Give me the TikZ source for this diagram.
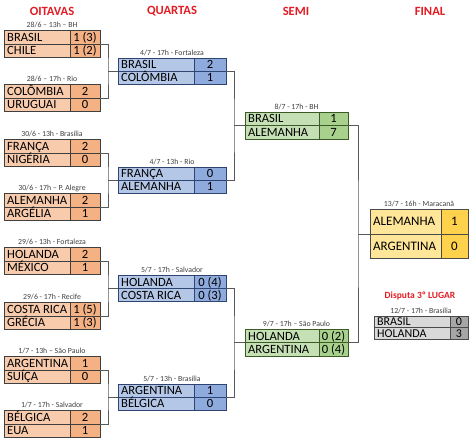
\documentclass[tikz,border=0pt]{standalone}
\usepackage{fontspec}
\setmainfont{Carlito}
\usetikzlibrary{calc}
\definecolor{hdr}{HTML}{E31B23}
\definecolor{lineg}{HTML}{595959}
\definecolor{dgray}{HTML}{404040}
\definecolor{oN}{HTML}{F8CBAD}
\definecolor{oS}{HTML}{F4B183}
\definecolor{oB}{HTML}{3F3F3F}
\definecolor{qN}{HTML}{B4C7E7}
\definecolor{qS}{HTML}{8FAADC}
\definecolor{qB}{HTML}{2F4470}
\definecolor{sN}{HTML}{C5E0B4}
\definecolor{sS}{HTML}{A9D18E}
\definecolor{sB}{HTML}{3B5A26}
\definecolor{fN}{HTML}{FFE699}
\definecolor{fS}{HTML}{FFD24D}
\definecolor{fB}{HTML}{4A4A4A}
\definecolor{tN}{HTML}{D9D9D9}
\definecolor{tS}{HTML}{A6A6A6}
\definecolor{tB}{HTML}{4A4A4A}
\tikzset{
  conn/.style={draw=lineg, line width=0.9pt},
  cell/.style={inner sep=0pt, outer sep=0pt, line width=0.7pt},
  team/.style={anchor=west, inner sep=0pt, text height=0.64*\gfs pt, text depth=0pt, font=\fontsize{\gfs}{\gfs}\selectfont},
  score/.style={inner sep=0pt, text height=0.64*\gfs pt, text depth=0pt, font=\fontsize{\gfs}{\gfs}\selectfont},
  datelbl/.style={inner sep=0pt, text=dgray, font=\fontsize{7.8}{7.8}\selectfont},
  header/.style={inner sep=0pt, text=hdr, font=\bfseries\fontsize{12.6}{12.6}\selectfont},
  oname/.style={fill=oN, draw=oB}, oscore/.style={fill=oS, draw=oB}, oline/.style={draw=oB, line width=0.7pt},
  qname/.style={fill=qN, draw=qB}, qscore/.style={fill=qS, draw=qB}, qline/.style={draw=qB, line width=0.7pt},
  sname/.style={fill=sN, draw=sB}, sscore/.style={fill=sS, draw=sB}, sline/.style={draw=sB, line width=0.7pt},
  fname/.style={fill=fN, draw=fB}, fscore/.style={fill=fS, draw=fB}, fline/.style={draw=fB, line width=0.7pt},
  tname/.style={fill=tN, draw=tB}, tscore/.style={fill=tS, draw=tB}, tline/.style={draw=tB, line width=0.7pt},
}
% geometry: \gL left, \gD divider, \gR right, \gH row height, \gfs font size
\newcommand{\setgeo}[5]{\def\gL{#1}\def\gD{#2}\def\gR{#3}\def\gH{#4}\def\gfs{#5}}
\newcommand{\game}[8]{%
  \node[cell, #8name, minimum width={(\gR-\gL)*1pt}, minimum height={2*\gH*1pt}, anchor=west] (#1) at (\gL,#2) {};
  \node[cell, #8score, minimum width={(\gR-\gD)*1pt}, minimum height={2*\gH*1pt}, anchor=east] (#1sc) at (#1.east) {};
  \draw[#8line] (#1.west) -- (#1.east);
  \node[team] (#1t1) at ($(#1.west)+(3,-\gH/2)$) {#3};
  \node[score] (#1s1) at ($(#1sc.center)+(0,-\gH/2)$) {#4};
  \node[team] (#1t2) at ($(#1.west)+(3,\gH/2)$) {#5};
  \node[score] (#1s2) at ($(#1sc.center)+(0,\gH/2)$) {#6};
  \node[datelbl] (#1d) at ($(#1.north)+(0,-5.5)$) {#7};
}
\begin{document}
\begin{tikzpicture}[x=1pt, y=-1pt]
\useasboundingbox (0,0) rectangle (474,442);
% headers
\node[header] (h1) at (52,11) {OITAVAS};
\node[header] (h2) at (172,11) {QUARTAS};
\node[header] (h3) at (296,11) {SEMI};
\node[header] (h4) at (430,11) {FINAL};
% bracket points
\coordinate (b1) at (108,71);
\coordinate (b2) at (108,180);
\coordinate (b3) at (108,288.5);
\coordinate (b4) at (108,397);
\coordinate (c1) at (234,125.5);
\coordinate (c2) at (234,342.75);
\coordinate (d1) at (358,234);
% oitavas
\setgeo{4}{70}{100}{13.5}{12.6}
\game{o1}{44}{BRASIL}{1 (3)}{CHILE}{1 (2)}{28/6 – 13h – BH}{o}
\game{o2}{98}{COLÔMBIA}{2}{URUGUAI}{0}{28/6 – 17h - Rio}{o}
\game{o3}{153}{FRANÇA}{2}{NIGÉRIA}{0}{30/6 - 13h - Brasília}{o}
\game{o4}{207}{ALEMANHA}{2}{ARGÉLIA}{1}{30/6 - 17h – P. Alegre}{o}
\game{o5}{261}{HOLANDA}{2}{MÉXICO}{1}{29/6 - 13h - Fortaleza}{o}
\game{o6}{316}{COSTA RICA}{1 (5)}{GRÉCIA}{1 (3)}{29/6 - 17h - Recife}{o}
\game{o7}{370}{ARGENTINA}{1}{SUÍÇA}{0}{1/7 - 13h – São Paulo}{o}
\game{o8}{424}{BÉLGICA}{2}{EUA}{1}{1/7 - 17h - Salvador}{o}
% quartas
\setgeo{118}{194}{226}{13}{12.6}
\game{q1}{71}{BRASIL}{2}{COLÔMBIA}{1}{4/7 - 17h - Fortaleza}{q}
\game{q2}{180}{FRANÇA}{0}{ALEMANHA}{1}{4/7 - 13h - Rio}{q}
\game{q3}{288.5}{HOLANDA}{0 (4)}{COSTA RICA}{0 (3)}{5/7 - 17h - Salvador}{q}
\game{q4}{397}{ARGENTINA}{1}{BÉLGICA}{0}{5/7 - 13h - Brasília}{q}
% semi
\setgeo{245}{319}{348}{13.5}{12.6}
\game{s1}{125.5}{BRASIL}{1}{ALEMANHA}{7}{8/7 - 17h - BH}{s}
\game{s2}{342.75}{HOLANDA}{0 (2)}{ARGENTINA}{0 (4)}{9/7 - 17h – São Paulo}{s}
% final
\setgeo{370}{441}{468}{24.5}{13}
\game{f1}{234}{ALEMANHA}{1}{ARGENTINA}{0}{13/7 - 16h - Maracanã}{f}
% third place
\node[inner sep=0pt, text=hdr, font=\bfseries\fontsize{9.5}{9.5}\selectfont] (t3h) at (420,296) {Disputa 3º LUGAR};
\setgeo{374}{450}{468}{11.5}{12}
\game{t1}{327.5}{BRASIL}{0}{HOLANDA}{3}{12/7 - 17h - Brasília}{t}
% connectors
\draw[conn] (o1.east) -| (b1) |- (o2.east);
\draw[conn] (b1) -- (q1.west);
\draw[conn] (o3.east) -| (b2) |- (o4.east);
\draw[conn] (b2) -- (q2.west);
\draw[conn] (o5.east) -| (b3) |- (o6.east);
\draw[conn] (b3) -- (q3.west);
\draw[conn] (o7.east) -| (b4) |- (o8.east);
\draw[conn] (b4) -- (q4.west);
\draw[conn] (q1.east) -| (c1) |- (q2.east);
\draw[conn] (c1) -- (s1.west);
\draw[conn] (q3.east) -| (c2) |- (q4.east);
\draw[conn] (c2) -- (s2.west);
\draw[conn] (s1.east) -| (d1) |- (s2.east);
\draw[conn] (d1) -- (f1.west);
\end{tikzpicture}
\end{document}
